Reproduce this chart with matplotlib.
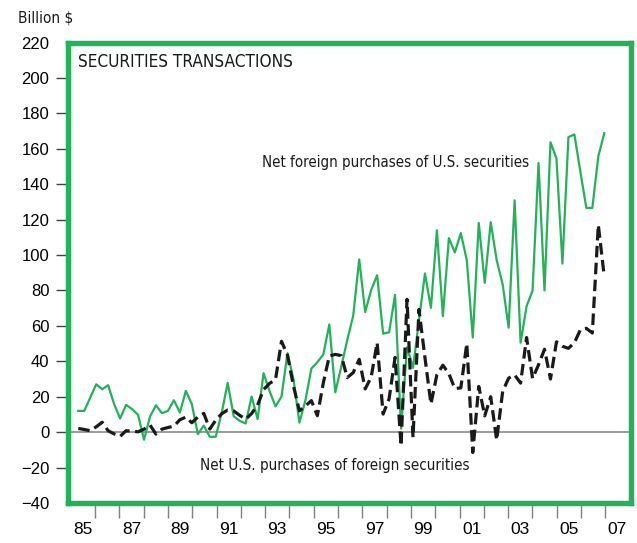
import matplotlib
matplotlib.use("Agg")
import matplotlib.pyplot as plt
import numpy as np
from matplotlib import font_manager


# quarterly, 1985Q1 .. 2007Q1, billion $
foreign_buys_us = [
    12.0, 12.0, 19.5, 27.0, 24.2, 26.5, 15.8, 7.7, 15.4, 13.0,
    9.8, -4.3, 8.8, 15.2, 10.7, 12.0, 18.0, 11.1, 23.3, 15.8,
    -1.1, 3.7, -2.6, -2.6, 11.0, 27.8, 9.0, 6.4, 4.9, 20.1,
    7.4, 33.3, 23.2, 14.5, 20.1, 44.6, 29.9, 5.4, 18.0, 35.9,
    39.5, 43.9, 60.8, 22.5, 37.0, 52.0, 65.8, 97.5, 67.8, 80.3,
    88.6, 55.6, 56.4, 77.5, 2.0, 48.0, 36.3, 63.0, 89.6, 70.2,
    114.0, 65.5, 109.6, 101.5, 112.4, 97.1, 53.4, 118.1, 84.3, 118.5,
    97.1, 83.4, 59.0, 130.9, 50.5, 71.1, 79.9, 151.9, 80.0, 163.7,
    154.5, 95.2, 166.6, 168.1, 147.0, 126.6, 126.6, 155.7, 168.8,
]
us_buys_foreign = [
    2.1, 1.5, 0.8, 3.0, 5.6, 0.8, -1.0, -2.4, 0.8, 0.5,
    0.2, 1.7, 4.0, -1.1, 1.7, 2.6, 3.4, 7.0, 8.5, 5.3,
    8.5, 10.6, 1.7, 6.8, 10.4, 12.5, 12.0, 9.5, 7.3, 10.5,
    15.3, 24.0, 27.5, 29.7, 51.3, 43.5, 26.1, 12.0, 14.8, 17.8,
    9.3, 27.9, 43.0, 43.9, 43.2, 30.8, 33.6, 41.1, 24.4, 31.0,
    50.5, 10.2, 18.8, 42.2, -7.8, 75.0, -3.0, 69.3, 42.0, 15.9,
    32.5, 37.8, 33.0, 24.6, 25.0, 50.0, -11.5, 25.8, 9.2, 20.0,
    -4.5, 23.0, 30.5, 32.3, 27.7, 53.4, 30.3, 38.0, 46.8, 30.0,
    51.0, 48.5, 47.3, 50.5, 57.8, 58.6, 56.0, 117.0, 87.8,
]
year_labels = ["85", "87", "89", "91", "93", "95", "97", "99", "01", "03", "05", "07"]

GREEN = "#22b25a"
GRAY = "#808080"

installed = {f.name for f in font_manager.fontManager.ttflist}
if "Liberation Sans Narrow" in installed:
    narrow = dict(family="Liberation Sans Narrow")
else:
    narrow = dict(family="DejaVu Sans", stretch="condensed")
plt.rcParams["font.family"] = ["Liberation Sans", "DejaVu Sans"]

# the published chart squeezes the quarters slightly against the year grid
t = 1985.31 + 0.246 * np.arange(len(foreign_buys_us))

fig = plt.figure(figsize=(6.37, 5.43), dpi=100)
ax = fig.add_axes([0.106, 0.0737, 0.8838, 0.848])

ax.axhline(0, color=GRAY, lw=1.1, zorder=1)
ax.plot(t, foreign_buys_us, color=GREEN, lw=1.6, zorder=2)
ax.plot(t, us_buys_foreign, color="#1a1a1a", lw=2.3, dashes=(3.6, 1.7), zorder=3)

ax.set_xlim(1984.868, 2008.037)
ax.set_ylim(-40, 220)

for s in ax.spines.values():
    s.set_color(GREEN)
    s.set_linewidth(3.9)
    s.set_zorder(5)

ax.set_yticks(np.arange(-40, 221, 20))
ax.tick_params(axis="y", direction="out", length=9, width=1.0, color="#444444",
               labelsize=12, pad=4)
yt = ax.yaxis.get_major_ticks()
yt[0].tick1line.set_visible(False)
yt[-1].tick1line.set_visible(False)

ax.set_xticks(np.arange(1986, 2008))
ax.set_xticklabels([])
ax.set_xticks(np.arange(1985.5, 2008, 2), minor=True)
ax.set_xticklabels(year_labels, minor=True)
ax.tick_params(axis="x", which="major", direction="out", length=11, width=1.0,
               color=GRAY)
ax.tick_params(axis="x", which="minor", length=0, labelsize=12.5, pad=14)

ax.text(1985.30, 209, "SECURITIES TRANSACTIONS", fontsize=12.3, va="center",
        color="#1a1a1a", **narrow)
ax.text(1992.87, 152, "Net foreign purchases of U.S. securities", fontsize=10.8,
        va="center", color="#1a1a1a", **narrow)
ax.text(1990.32, -18.6, "Net U.S. purchases of foreign securities", fontsize=10.9,
        va="center", color="#1a1a1a", **narrow)
fig.text(18 / 637, 1 - 18 / 543, "Billion $", fontsize=11, va="center",
         color="#1a1a1a", **narrow)

fig.savefig("out.png", dpi=100)
